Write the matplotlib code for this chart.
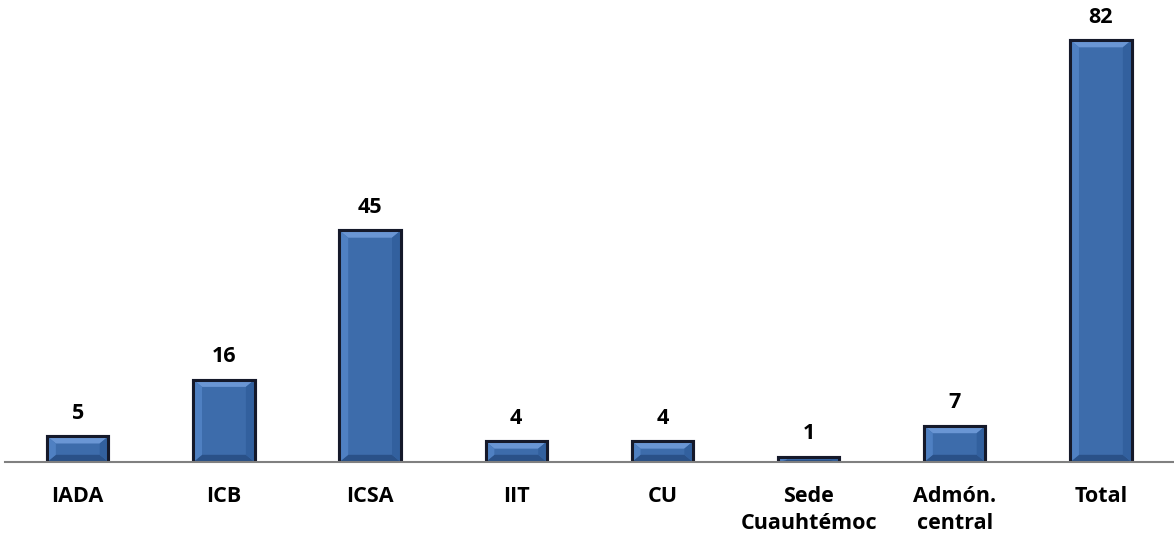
import numpy as np
import matplotlib.pyplot as plt
from matplotlib.patches import Polygon

categories = ['IADA', 'ICB', 'ICSA', 'IIT', 'CU', 'Sede\nCuauhtémoc', 'Admón.\ncentral', 'Total']
values = [5, 16, 45, 4, 4, 1, 7, 82]

plt.rcParams['font.family'] = ['Open Sans', 'DejaVu Sans']

fig = plt.figure(figsize=(11.74, 5.41), dpi=100)
ax = fig.add_axes([0.004, 0.146, 0.996, 0.854])

x = np.arange(len(categories))
width = 0.42
bars = ax.bar(x, values, width=width, color='#3d6cab', edgecolor='#15192a',
              linewidth=2.2, zorder=3)

ax.set_xlim(-0.5, len(categories) - 0.5)
ax.set_ylim(0, 89.8)

# bevel shading on each bar
for b in bars:
    x0, y0 = b.get_x(), b.get_y()
    w, h = b.get_width(), b.get_height()
    dx = 0.06
    dy = min(1.4, h * 0.4)
    x1, y1 = x0 + w, y0 + h
    top = Polygon([(x0, y1), (x1, y1), (x1 - dx, y1 - dy), (x0 + dx, y1 - dy)],
                  closed=True, color='#6a96d4', zorder=4, lw=0)
    bottom = Polygon([(x0, y0), (x1, y0), (x1 - dx, y0 + dy), (x0 + dx, y0 + dy)],
                     closed=True, color='#2a5188', zorder=4, lw=0)
    left = Polygon([(x0, y0), (x0, y1), (x0 + dx, y1 - dy), (x0 + dx, y0 + dy)],
                   closed=True, color='#4f80c2', zorder=4, lw=0)
    right = Polygon([(x1, y0), (x1, y1), (x1 - dx, y1 - dy), (x1 - dx, y0 + dy)],
                    closed=True, color='#32609e', zorder=4, lw=0)
    for p in (top, bottom, left, right):
        ax.add_patch(p)
    ax.add_patch(plt.Rectangle((x0, y0), w, h, fill=False, edgecolor='#15192a',
                               linewidth=2.2, zorder=5))
    ax.annotate(f'{int(h)}', (x0 + w / 2, y1), xytext=(0, 9), textcoords='offset points',
                ha='center', va='bottom', fontsize=15.5, fontweight='bold')

ax.set_xticks(x)
ax.set_xticklabels(categories, fontsize=15.5, fontweight='bold', linespacing=1.4)
ax.tick_params(axis='x', length=0, pad=17)
ax.set_yticks([])
for s in ['top', 'right', 'left']:
    ax.spines[s].set_visible(False)
ax.spines['bottom'].set_color('#808080')
ax.spines['bottom'].set_linewidth(1.5)
ax.spines['bottom'].set_zorder(6)

fig.savefig('out.png', dpi=100)
